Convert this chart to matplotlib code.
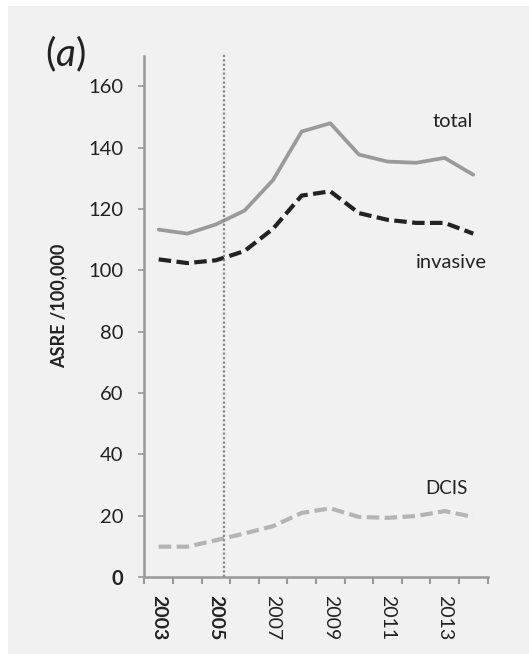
import matplotlib
matplotlib.use("Agg")
import matplotlib.pyplot as plt
from matplotlib.patches import Rectangle

plt.rcParams['font.family'] = ['Lato', 'DejaVu Sans']
plt.rcParams['mathtext.fontset'] = 'custom'
plt.rcParams['mathtext.it'] = 'Lato:italic'
plt.rcParams['mathtext.rm'] = 'Lato'

years = [2003, 2004, 2005, 2006, 2007, 2008, 2009, 2010, 2011, 2012, 2013, 2014]
total = [113.3, 112.0, 115.0, 119.5, 129.5, 145.3, 148.0, 137.8, 135.5, 135.1, 136.7, 131.2]
invasive = [103.6, 102.4, 103.3, 106.3, 113.6, 124.4, 125.8, 118.7, 116.5, 115.5, 115.5, 112.0]
dcis = [9.9, 9.9, 12.0, 14.2, 16.6, 20.9, 22.4, 19.6, 19.3, 19.9, 21.5, 19.6]
yticks = [0, 20, 40, 60, 80, 100, 120, 140, 160]
xlabels = ['2003', '2005', '2007', '2009', '2011', '2013']
screening_pos = 2.27  # vertical dotted marker, in category units

bg = '#f1f1f1'
fig = plt.figure(figsize=(5.29, 6.54), dpi=100)
fig.patch.set_facecolor('white')
fig.patches.append(Rectangle((8 / 529, 0), 1, 648 / 654, transform=fig.transFigure,
                             facecolor=bg, edgecolor='none', zorder=-10))

ax = fig.add_axes([0.273, 0.1177, 0.6486, 0.797])
ax.set_facecolor(bg)
x = list(range(len(years)))

ax.plot(x, total, color='#9a9a9a', lw=2.7, solid_capstyle='round')
ax.plot(x, invasive, color='#222222', lw=3.0, dashes=(3.0, 1.3))
ax.plot(x, dcis, color='#b4b4b4', lw=3.0, dashes=(3.0, 1.3))
ax.axvline(screening_pos, ymin=0, ymax=1.005, color='#888888', lw=1.6, ls=(0, (1, 1)),
           clip_on=False)

ax.set_xlim(-0.5, 11.5)
ax.set_ylim(0, 170)

for s in ['top', 'right']:
    ax.spines[s].set_visible(False)
for s in ['left', 'bottom']:
    ax.spines[s].set_color('#999999')
    ax.spines[s].set_linewidth(1.8)

ax.set_yticks(yticks)
ax.set_yticklabels([str(v) for v in yticks], fontsize=14.5, color='#222222')
ax.tick_params(axis='y', length=4.5, width=1.2, color='#999999', pad=10.5)
ax.get_yticklabels()[0].set_fontweight('bold')

ax.set_xticks([i - 0.5 for i in range(len(years) + 1)])
ax.set_xticklabels([])
ax.tick_params(axis='x', which='major', length=5, width=1.5, color='#999999')
label_pos = [years.index(int(y)) for y in xlabels]
ax.set_xticks(label_pos, minor=True)
ax.set_xticklabels(xlabels, minor=True, rotation=-90, fontsize=14, color='#222222')
ax.tick_params(axis='x', which='minor', length=0, pad=13)
for t in ax.get_xticklabels(minor=True)[:2]:
    t.set_fontweight('bold')

ax.set_ylabel('ASRE /100,000', fontsize=13, fontweight='bold', color='#222222')
ax.yaxis.set_label_coords(-0.225, 0.52)

ax.text(10.3, 148.5, 'total', fontsize=14.5, color='#222222', ha='center', va='center')
ax.text(10.25, 102.5, 'invasive', fontsize=14.5, color='#222222', ha='center', va='center')
ax.text(10.05, 29, 'DCIS', fontsize=13.5, color='#222222', ha='center', va='center')

fig.text(45 / 529, 1 - 54 / 654, r'($\mathit{a}$)', fontsize=28, color='#222222',
         va='center', ha='left')

fig.savefig('out.png', dpi=100, facecolor=fig.get_facecolor())
